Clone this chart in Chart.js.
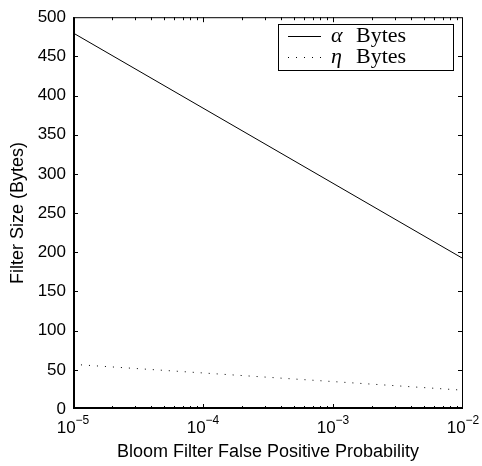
<!DOCTYPE html>
<html lang="en">
<head>
    <meta charset="UTF-8">
    <title>Bloom Filter Size</title>
    <script src="https://cdn.jsdelivr.net/npm/chart.js"></script>
    <style>
        html, body { margin: 0; padding: 0; background: #fff; }
        #wrap { width: 482px; height: 466px; }
    </style>
</head>
<body>
    <div id="wrap"><canvas id="sizeChart" width="482" height="466"></canvas></div>
    <script>
        // false positive probability (log axis) and filter sizes in bytes
        const probabilities = [1e-5, 1e-4, 1e-3, 1e-2];
        const alphaBytes = [480, 384, 288, 192];
        const etaBytes = [57, 46, 35, 24];
        const xTickExponents = [-5, -4, -3, -2];
        const legendNames = ['\u03b1', '\u03b7'];

        const sansFont = '"Liberation Sans", Arial, sans-serif';
        const serifFont = '"Liberation Serif", "Times New Roman", serif';

        // box, inward ticks on all four sides, x tick labels with exponents, legend
        const matlabAxes = {
            id: 'matlabAxes',
            afterDraw(chart) {
                const { ctx, chartArea: a, scales } = chart;
                const x = scales.x, y = scales.y;
                ctx.save();
                ctx.strokeStyle = '#000';
                ctx.lineWidth = 1;
                ctx.strokeRect(a.left + 0.5, a.top + 0.5, a.right - a.left - 1, a.bottom - a.top - 1);
                ctx.lineWidth = 2;
                ctx.beginPath();
                ctx.moveTo(a.left + 1, a.top);
                ctx.lineTo(a.left + 1, a.bottom - 1);
                ctx.lineTo(a.right, a.bottom - 1);
                ctx.stroke();

                ctx.lineWidth = 1;
                ctx.beginPath();
                // y ticks every 50
                for (let v = 50; v < 500; v += 50) {
                    const py = Math.round(y.getPixelForValue(v)) + 0.5;
                    ctx.moveTo(a.left, py); ctx.lineTo(a.left + 5, py);
                    ctx.moveTo(a.right, py); ctx.lineTo(a.right - 5, py);
                }
                // x major and minor log ticks
                for (let e = -5; e <= -2; e++) {
                    for (let m = 1; m <= 9; m++) {
                        const v = m * Math.pow(10, e);
                        if (v > 1e-2 * 1.0001) break;
                        const px = Math.round(x.getPixelForValue(v)) + 0.5;
                        if (px <= a.left + 1 || px >= a.right - 1) continue;
                        const len = m === 1 ? 5 : 3;
                        ctx.moveTo(px, a.bottom); ctx.lineTo(px, a.bottom - len);
                        ctx.moveTo(px, a.top); ctx.lineTo(px, a.top + len);
                    }
                }
                ctx.stroke();

                // x tick labels as 10^e
                ctx.fillStyle = '#000';
                ctx.textBaseline = 'alphabetic';
                xTickExponents.forEach(e => {
                    const px = x.getPixelForValue(Math.pow(10, e));
                    ctx.font = '17px ' + sansFont;
                    const baseW = ctx.measureText('10').width;
                    ctx.font = '12px ' + sansFont;
                    const sup = '\u2212' + Math.abs(e);
                    const supW = ctx.measureText(sup).width;
                    const left = px - (baseW + supW) / 2;
                    ctx.font = '17px ' + sansFont;
                    ctx.fillText('10', left, a.bottom + 24);
                    ctx.font = '12px ' + sansFont;
                    ctx.fillText(sup, left + baseW, a.bottom + 15);
                });

                // legend
                const lx = 278, ly = 24, lw = 175, lh = 46;
                ctx.fillStyle = '#fff';
                ctx.fillRect(lx, ly, lw, lh);
                ctx.strokeStyle = '#000';
                ctx.lineWidth = 1;
                ctx.strokeRect(lx + 0.5, ly + 0.5, lw, lh);
                chart.data.datasets.forEach((ds, i) => {
                    const rowY = ly + 12 + i * 21;
                    ctx.beginPath();
                    ctx.setLineDash(ds.borderDash || []);
                    ctx.moveTo(lx + 10, rowY + 0.5);
                    ctx.lineTo(lx + 43, rowY + 0.5);
                    ctx.stroke();
                    ctx.setLineDash([]);
                    ctx.fillStyle = '#000';
                    ctx.textBaseline = 'middle';
                    ctx.font = 'italic 22px ' + serifFont;
                    ctx.fillText(legendNames[i], lx + 53, rowY);
                    ctx.font = '22px ' + serifFont;
                    ctx.fillText('Bytes', lx + 78, rowY);
                });
                ctx.restore();
            }
        };

        new Chart(document.getElementById('sizeChart'), {
            type: 'line',
            data: {
                datasets: [
                    {
                        label: 'alpha Bytes',
                        data: probabilities.map((p, i) => ({ x: p, y: alphaBytes[i] })),
                        borderColor: '#000',
                        borderWidth: 1,
                        pointRadius: 0,
                        tension: 0
                    },
                    {
                        label: 'eta Bytes',
                        data: probabilities.map((p, i) => ({ x: p, y: etaBytes[i] })),
                        borderColor: '#000',
                        borderWidth: 1,
                        borderDash: [1, 7],
                        pointRadius: 0,
                        tension: 0
                    }
                ]
            },
            options: {
                responsive: false,
                animation: false,
                layout: { padding: { top: 15, right: 19, left: 0, bottom: 0 } },
                plugins: { legend: { display: false }, tooltip: { enabled: false } },
                scales: {
                    x: {
                        type: 'logarithmic',
                        min: 1e-5,
                        max: 1e-2,
                        grid: { display: false },
                        border: { display: false },
                        ticks: { display: false },
                        title: {
                            display: true,
                            text: 'Bloom Filter False Positive Probability',
                            color: '#000',
                            font: { family: sansFont, size: 18 },
                            padding: { top: 0, bottom: 3 }
                        },
                        afterFit(scale) { scale.height = 57; }
                    },
                    y: {
                        min: 0,
                        max: 500,
                        grid: { display: false, drawTicks: false },
                        border: { display: false },
                        ticks: {
                            stepSize: 50,
                            color: '#000',
                            padding: 7,
                            font: { family: sansFont, size: 17 }
                        },
                        title: {
                            display: true,
                            text: 'Filter Size (Bytes)',
                            color: '#000',
                            font: { family: sansFont, size: 18 },
                            padding: { top: 7, bottom: 0 }
                        },
                        afterFit(scale) { scale.width = 73; }
                    }
                }
            },
            plugins: [matlabAxes]
        });
    </script>
</body>
</html>
